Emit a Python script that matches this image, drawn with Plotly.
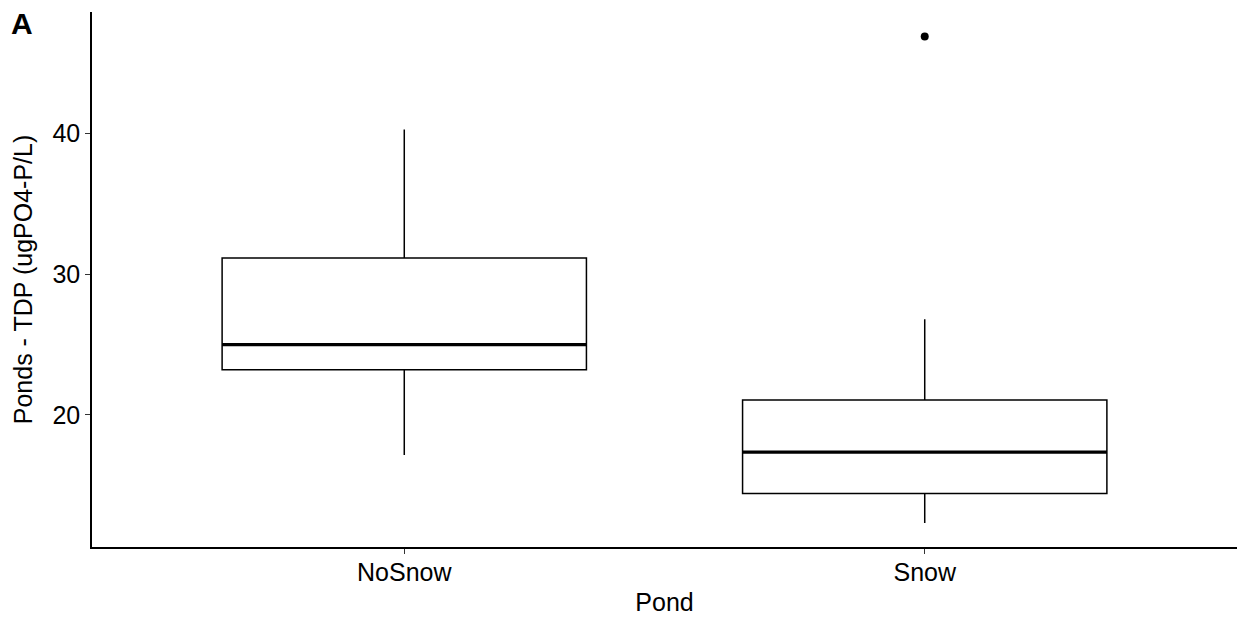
import plotly.graph_objects as go

# Summary statistics of total dissolved phosphorus per pond group
ponds = ["NoSnow", "Snow"]
lower_whisker = [17.15, 12.3]
q1 = [23.2, 14.4]
median = [25.0, 17.35]
q3 = [31.15, 21.05]
upper_whisker = [40.3, 26.8]
outlier_pond = ["Snow"]
outlier_value = [46.9]

box_width = 0.7
pos = {p: i + 1 for i, p in enumerate(ponds)}

fig = go.Figure()
for i, p in enumerate(ponds):
    fig.add_trace(go.Box(
        x=[pos[p]], q1=[q1[i]], median=[median[i]], q3=[q3[i]],
        lowerfence=[lower_whisker[i]], upperfence=[upper_whisker[i]],
        width=box_width, fillcolor="white",
        line=dict(color="black", width=1.5), whiskerwidth=0,
        boxpoints=False, showlegend=False, hoverinfo="skip",
    ))
    # thicker median bar
    fig.add_trace(go.Scatter(
        x=[pos[p] - box_width / 2, pos[p] + box_width / 2],
        y=[median[i], median[i]], mode="lines",
        line=dict(color="black", width=3.2), showlegend=False, hoverinfo="skip",
    ))

fig.add_trace(go.Scatter(
    x=[pos[p] for p in outlier_pond], y=outlier_value, mode="markers",
    marker=dict(color="black", size=8), showlegend=False, hoverinfo="skip",
))

axis_common = dict(
    showline=True, linecolor="black", linewidth=1.5, showgrid=False,
    zeroline=False, ticks="outside", ticklen=5, tickwidth=1.2, tickcolor="#333",
    tickfont=dict(size=25, color="black"),
    title_font=dict(size=25, color="black"),
)

fig.update_layout(
    width=1238, height=618, plot_bgcolor="white", paper_bgcolor="white",
    margin=dict(l=92, r=1, t=12, b=71),
    font=dict(family="Liberation Sans, Arial, sans-serif", color="black"),
    xaxis=dict(range=[0.4, 2.6], tickvals=[pos[p] for p in ponds], ticktext=ponds,
               ticklabelstandoff=-3,
               title=dict(text="Pond", standoff=9), **axis_common),
    yaxis=dict(range=[10.6, 48.65], tickvals=[20, 30, 40],
               title=dict(text="Ponds - TDP (ugPO4-P/L)", standoff=13), **axis_common),
    annotations=[dict(text="<b>A</b>", x=11, y=23, xref="paper", yref="paper",
                      xanchor="left", yanchor="middle", showarrow=False,
                      font=dict(size=30, color="black"))],
)
# place the panel tag in pixel terms relative to the plotting area
fig.layout.annotations[0].x = (9 - 92) / (1238 - 92 - 1)
fig.layout.annotations[0].y = 1 + (12 - 23) / (618 - 12 - 71)

fig.write_html("out.html")
